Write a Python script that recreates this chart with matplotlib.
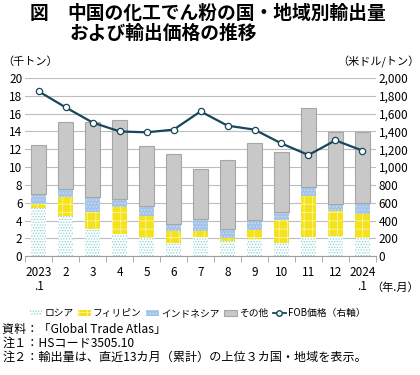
import numpy as np
import matplotlib
matplotlib.use("Agg")
import matplotlib.pyplot as plt
from matplotlib.patches import Patch
from matplotlib.lines import Line2D

plt.rcParams['font.family'] = ['Noto Sans CJK JP', 'DejaVu Sans']
plt.rcParams['hatch.linewidth'] = 0.6

# data (千トン, 米ドル/トン)
months = ['2023\n.1', '2', '3', '4', '5', '6', '7', '8', '9', '10', '11', '12', '2024\n.1']
russia = [5.4, 4.5, 3.0, 2.45, 2.05, 1.45, 2.2, 1.7, 1.9, 1.5, 2.2, 2.3, 2.05]
philippines = [0.45, 2.15, 2.0, 3.1, 2.5, 1.35, 0.6, 0.3, 1.05, 2.55, 4.55, 2.8, 2.65]
indonesia = [1.1, 0.85, 1.6, 0.9, 1.05, 0.8, 1.35, 1.0, 1.1, 0.85, 1.05, 0.75, 1.25]
total = [12.45, 15.05, 15.05, 15.3, 12.4, 11.45, 9.8, 10.75, 12.7, 11.7, 16.6, 13.95, 13.95]
fob = [1850, 1670, 1500, 1400, 1390, 1420, 1625, 1465, 1420, 1265, 1135, 1300, 1185]

others = [t - r - p - i for t, r, p, i in zip(total, russia, philippines, indonesia)]

fig = plt.figure(figsize=(4.2, 3.75), dpi=100)
ax = fig.add_axes([0.06, 0.317, 0.835, 0.475])
ax2 = ax.twinx()

x = np.arange(len(months))
w = 0.55
b1 = np.array(russia)
b2 = b1 + np.array(philippines)
b3 = b2 + np.array(indonesia)

ax.bar(x, russia, w, color='white', edgecolor='#86cfcf', hatch='......', linewidth=0, zorder=2)
ax.bar(x, philippines, w, bottom=b1, color='#f3e21c', edgecolor='#fbf3a0', hatch='++', linewidth=0, zorder=2)
ax.bar(x, indonesia, w, bottom=b2, color='#a3c4e8', edgecolor='#cfe0f3', hatch='.....', linewidth=0, zorder=2)
ax.bar(x, others, w, bottom=b3, color='#c8c8c8', edgecolor='#a6a6a6', linewidth=0.8, zorder=2)

ax2.plot(x, fob, color='#17475a', lw=1.6, marker='o', ms=4.5, mfc='white', mec='#17475a', mew=0.9, zorder=3)

ax.set_xlim(-0.5, len(months) - 0.5)
ax.set_ylim(0, 20)
ax.set_yticks(np.arange(0, 21, 2))
ax2.set_ylim(0, 2000)
ax2.set_yticks(np.arange(0, 2001, 200))
ax2.set_yticklabels([f'{v:,}' for v in range(0, 2001, 200)])
ax.grid(axis='y', color='#bdbdbd', lw=0.8, zorder=0)
ax.set_axisbelow(True)

for a in (ax, ax2):
    for s in a.spines.values():
        s.set_visible(False)
    a.tick_params(axis='y', length=0, labelsize=8.5, pad=2)
ax.spines['bottom'].set_visible(True)
ax.spines['bottom'].set_color('#9e9e9e')
ax.set_xticks(x)
ax.set_xticklabels(months, fontsize=8.5, linespacing=1.15)
ax.set_xticks(np.arange(-0.5, len(months), 1), minor=True)
ax.tick_params(axis='x', which='major', length=0, pad=7)
ax.tick_params(axis='x', which='minor', length=4, color='#9e9e9e')

fig.text(0.005, 0.835, '（千トン）', fontsize=8, ha='left', va='center')
fig.text(0.998, 0.835, '（米ドル/トン）', fontsize=8, ha='right', va='center')
fig.text(0.998, 0.232, '（年.月）', fontsize=8, ha='right', va='center')

fig.text(0.07, 0.965, '図', fontsize=13.5, fontweight='bold', ha='left', va='center')
fig.text(0.16, 0.965, '中国の化工でん粉の国・地域別輸出量', fontsize=13.5, fontweight='bold', ha='left', va='center')
fig.text(0.165, 0.91, 'および輸出価格の推移', fontsize=13.5, fontweight='bold', ha='left', va='center')

handles = [
    Patch(facecolor='white', edgecolor='#86cfcf', hatch='......', linewidth=0),
    Patch(facecolor='#f3e21c', edgecolor='#fbf3a0', hatch='++', linewidth=0),
    Patch(facecolor='#a3c4e8', edgecolor='#cfe0f3', hatch='.....', linewidth=0),
    Patch(facecolor='#c8c8c8', edgecolor='#a6a6a6', linewidth=0.8),
    Line2D([], [], color='#17475a', lw=1.3, marker='o', ms=4, mfc='white', mec='#17475a'),
]
labels = ['ロシア', 'フィリピン', 'インドネシア', 'その他', 'FOB価格（右軸）']
fig.legend(handles, labels, loc='center', bbox_to_anchor=(0.47, 0.165), ncol=5, frameon=False,
           fontsize=7, handlelength=1.3, handleheight=0.6, handletextpad=0.2, columnspacing=0.5)

fig.text(0.005, 0.12, '資料：「Global Trade Atlas」', fontsize=8.7, ha='left', va='center')
fig.text(0.005, 0.085, '注１：HSコード3505.10', fontsize=8.7, ha='left', va='center')
fig.text(0.005, 0.048, '注２：輸出量は、直近13カ月（累計）の上位３カ国・地域を表示。', fontsize=8.7, ha='left', va='center')

fig.savefig('out.png', dpi=100)
